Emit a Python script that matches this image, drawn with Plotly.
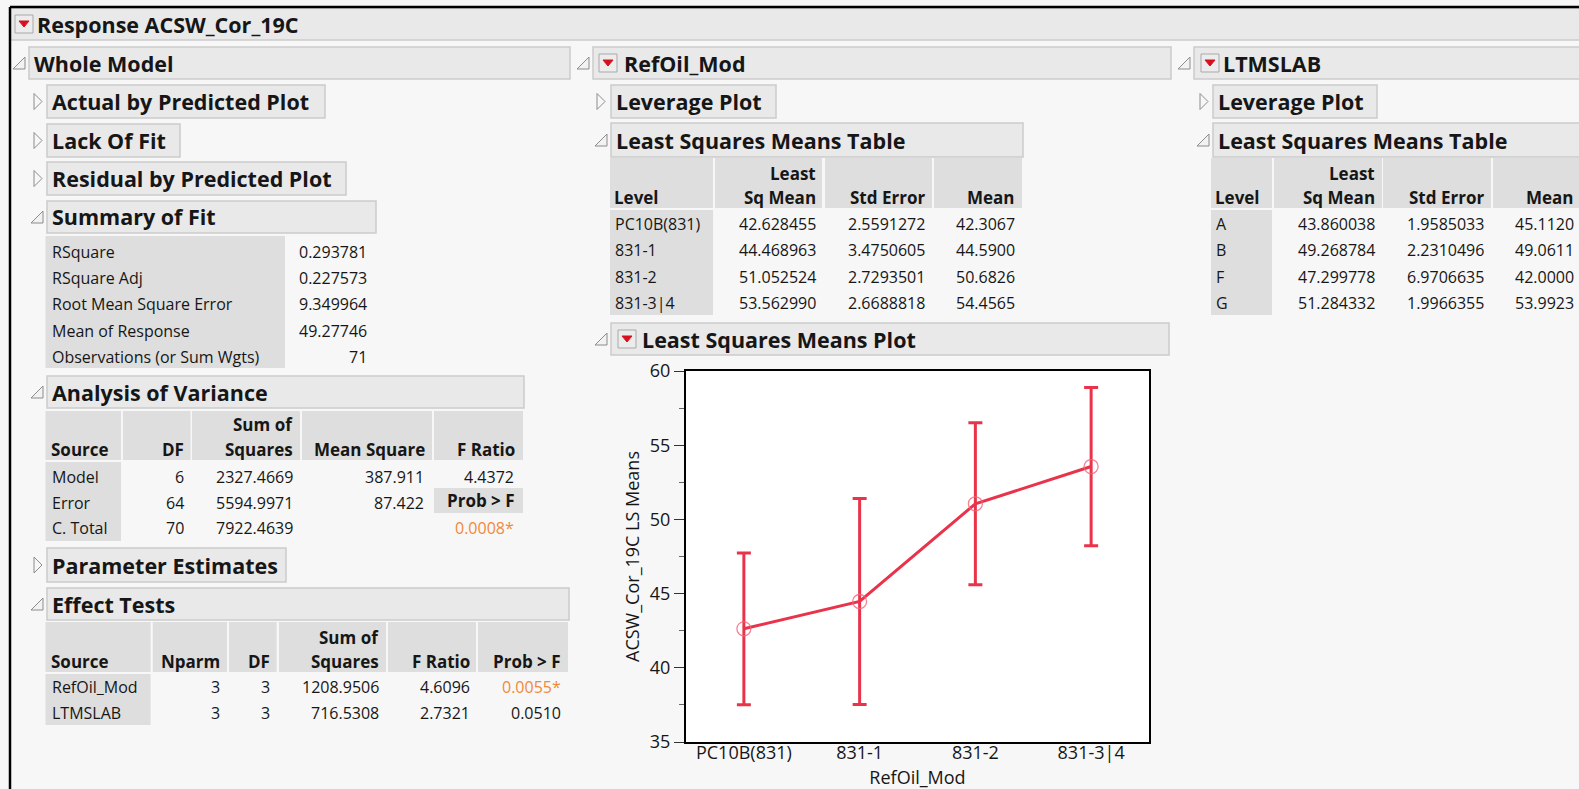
import plotly.graph_objects as go

W, H = 1579, 789

# ---- data ----
levels = ["PC10B(831)", "831-1", "831-2", "831-3|4"]
ls_mean = [42.628455, 44.468963, 51.052524, 53.562990]
std_err = [2.5591272, 3.4750605, 2.7293501, 2.6688818]
raw_mean = [42.3067, 44.5900, 50.6826, 54.4565]
t_crit = 1.99773  # t quantile, 0.975, 64 error DF

lab_levels = ["A", "B", "F", "G"]
lab_ls_mean = [43.860038, 49.268784, 47.299778, 51.284332]
lab_std_err = [1.9585033, 2.2310496, 6.9706635, 1.9966355]
lab_raw_mean = [45.1120, 49.0611, 42.0000, 53.9923]

fit_labels = ["RSquare", "RSquare Adj", "Root Mean Square Error", "Mean of Response",
              "Observations (or Sum Wgts)"]
fit_values = ["0.293781", "0.227573", "9.349964", "49.27746", "71"]

anova_source = ["Model", "Error", "C. Total"]
anova_df = ["6", "64", "70"]
anova_ss = ["2327.4669", "5594.9971", "7922.4639"]
anova_ms = ["387.911", "87.422", ""]
anova_f = ["4.4372", "", ""]
anova_p = "0.0008*"

eff_source = ["RefOil_Mod", "LTMSLAB"]
eff_nparm = ["3", "3"]
eff_df = ["3", "3"]
eff_ss = ["1208.9506", "716.5308"]
eff_f = ["4.6096", "2.7321"]
eff_p = ["0.0055*", "0.0510"]
eff_sig = [True, False]

y_ticks = [35, 40, 45, 50, 55, 60]

# ---- style ----
FONT = "Open Sans"
BG = "#f7f7f7"
HDR_FILL = "#e9e9e9"
HDR_LINE = "#cbcbcb"
CELL = "#dedede"
TXT = "#161616"
ORANGE = "#f0893a"
RED = "#e8334a"
HSIZE = 21.5   # section titles
BSIZE = 16     # table body
CSIZE = 17     # table column headers
PSIZE = 18     # plot axis text

shapes = []
annotations = []


def px(x):
    return x / W


def py(y):
    return 1 - y / H


def rect(x0, y0, x1, y1, fill, line=None, lw=0):
    shapes.append(dict(type="rect", xref="paper", yref="paper",
                       x0=px(x0), x1=px(x1), y0=py(y1), y1=py(y0),
                       fillcolor=fill, line=dict(color=line or fill, width=lw),
                       layer="below"))


def path(points, fill, line, lw=1):
    d = "M " + " L ".join(f"{px(x)},{py(y)}" for x, y in points) + " Z"
    shapes.append(dict(type="path", xref="paper", yref="paper", path=d,
                       fillcolor=fill, line=dict(color=line, width=lw), layer="above"))


def text(x, y, s, anchor="left", size=BSIZE, bold=False, color=TXT):
    if bold:
        s = f"<b>{s}</b>"
    annotations.append(dict(x=px(x), y=py(y), xref="paper", yref="paper", text=s,
                            showarrow=False, xanchor=anchor, yanchor="middle",
                            font=dict(family=FONT, size=size, color=color),
                            borderpad=0))


def colhead(x, y, s, anchor="right"):
    text(x, y, s, anchor=anchor, size=CSIZE, bold=True)


def open_tri(x, yc):
    path([(x + 12, yc - 6), (x + 12, yc + 6), (x, yc + 6)], "#f2f2f2", "#8c8c8c", 1)


def closed_tri(x, yc):
    path([(x, yc - 8), (x + 8, yc), (x, yc + 8)], "#f7f7f7", "#8c8c8c", 1)


def red_icon(x0, yc):
    shapes.append(dict(type="rect", xref="paper", yref="paper",
                       x0=px(x0), x1=px(x0 + 18), y0=py(yc + 9), y1=py(yc - 9),
                       fillcolor="#ececec", line=dict(color="#a9a9a9", width=1),
                       layer="above"))
    path([(x0 + 4, yc - 3), (x0 + 14, yc - 3), (x0 + 9, yc + 3)], "#d7101f", "#d7101f", 1)


def header(x0, y0, x1, y1, title, tri=None, tri_x=None, icon_x=None, text_x=None, size=HSIZE):
    rect(x0, y0, x1, y1, HDR_FILL, HDR_LINE, 1.5)
    yc = (y0 + y1) / 2
    if tri == "open":
        open_tri(tri_x, yc)
    elif tri == "closed":
        closed_tri(tri_x, yc)
    if icon_x is not None:
        red_icon(icon_x, yc)
    text(text_x if text_x is not None else x0 + 5, yc, title, size=size, bold=True)


# ---- frame and top bar ----
rect(10, 8, W + 5, 40, HDR_FILL, HDR_LINE, 1.5)
red_icon(15, 24)
text(36, 24, "Response ACSW_Cor_19C", size=HSIZE, bold=True)
shapes.append(dict(type="line", xref="paper", yref="paper", x0=px(10), x1=1,
                   y0=py(7), y1=py(7), line=dict(color="black", width=2.5)))
shapes.append(dict(type="line", xref="paper", yref="paper", x0=px(10), x1=px(10),
                   y0=py(7), y1=0, line=dict(color="black", width=2.5)))

# ---- left column: Whole Model ----
header(29, 47, 570, 79, "Whole Model", "open", 13, text_x=33)
header(47, 85, 325, 118, "Actual by Predicted Plot", "closed", 34, text_x=51)
header(47, 124, 180, 157, "Lack Of Fit", "closed", 34, text_x=51)
header(47, 162, 346, 195, "Residual by Predicted Plot", "closed", 34, text_x=51)
header(47, 201, 376, 233, "Summary of Fit", "open", 31, text_x=51)

rect(45.5, 236, 285, 368, CELL)
for i, (lab, val) in enumerate(zip(fit_labels, fit_values)):
    yy = 252 + i * 26.2
    text(51, yy, lab)
    text(368, yy, val, anchor="right")

header(47, 376, 524, 408, "Analysis of Variance", "open", 31, text_x=51)
anova_cols = [(45.5, 121), (123, 190.5), (192, 300), (302, 432), (434, 523)]
for c0, c1 in anova_cols:
    rect(c0, 411, c1, 460, CELL)
rect(45.5, 462, 121, 541, CELL)
rect(434, 488, 523, 513, CELL)
colhead(50, 449, "Source", anchor="left")
colhead(185, 449, "DF")
colhead(294, 424, "Sum of")
colhead(294, 449, "Squares")
colhead(426, 449, "Mean Square")
colhead(516, 449, "F Ratio")
for i in range(3):
    yy = 477 + i * 25.6
    text(51, yy, anova_source[i])
    text(185, yy, anova_df[i], anchor="right")
    text(294, yy, anova_ss[i], anchor="right")
    if anova_ms[i]:
        text(425, yy, anova_ms[i], anchor="right")
    if anova_f[i]:
        text(515, yy, anova_f[i], anchor="right")
colhead(516, 500, "Prob > F")
text(515, 528, anova_p, anchor="right", color=ORANGE)

header(47, 548, 286, 582, "Parameter Estimates", "closed", 34, text_x=51)
header(47, 588, 569, 620, "Effect Tests", "open", 31, text_x=51)
eff_cols = [(45.5, 150.6), (152.8, 227), (229, 276.7), (279, 386), (388, 476), (478, 568)]
for c0, c1 in eff_cols:
    rect(c0, 622, c1, 672, CELL)
rect(45.5, 674, 150.6, 725, CELL)
colhead(50, 661, "Source", anchor="left")
colhead(221, 661, "Nparm")
colhead(271, 661, "DF")
colhead(380, 637, "Sum of")
colhead(380, 661, "Squares")
colhead(471, 661, "F Ratio")
colhead(562, 661, "Prob > F")
for i in range(2):
    yy = 687 + i * 26
    text(51, yy, eff_source[i])
    text(221, yy, eff_nparm[i], anchor="right")
    text(271, yy, eff_df[i], anchor="right")
    text(380, yy, eff_ss[i], anchor="right")
    text(470.6, yy, eff_f[i], anchor="right")
    text(561.6, yy, eff_p[i], anchor="right", color=ORANGE if eff_sig[i] else TXT)


# ---- least squares means tables ----
def lsm_table(cols, left_x, rights, lv, lsm, se, mn):
    for c0, c1 in cols:
        rect(c0, 158, c1, 208, CELL)
    rect(cols[0][0], 210, cols[0][1], 315, CELL)
    colhead(left_x - 1, 197, "Level", anchor="left")
    colhead(rights[0], 173, "Least")
    colhead(rights[0], 197, "Sq Mean")
    colhead(rights[1], 197, "Std Error")
    colhead(rights[2], 197, "Mean")
    for i in range(len(lv)):
        yy = 224 + i * 26.3
        text(left_x, yy, lv[i])
        text(rights[0], yy, f"{lsm[i]:.6f}", anchor="right")
        text(rights[1], yy, f"{se[i]:.7f}", anchor="right")
        text(rights[2], yy, f"{mn[i]:.4f}", anchor="right")


# middle column: RefOil_Mod
header(593, 47, 1171, 79, "RefOil_Mod", "open", 577, icon_x=599, text_x=623)
header(611, 85, 776, 118, "Leverage Plot", "closed", 597, text_x=615)
header(611, 123, 1023, 157, "Least Squares Means Table", "open", 595, text_x=615)
lsm_table([(610, 713), (715, 822), (825, 932), (934, 1022)], 614,
          [816.5, 925.6, 1015.5], levels, ls_mean, std_err, raw_mean)
header(611, 323, 1169, 355, "Least Squares Means Plot", "open", 595, icon_x=618, text_x=641)

# right column: LTMSLAB
header(1194, 47, W + 5, 79, "LTMSLAB", "open", 1178, icon_x=1201, text_x=1222)
header(1213, 85, 1377, 118, "Leverage Plot", "closed", 1200, text_x=1217)
header(1213, 123, W + 5, 157, "Least Squares Means Table", "open", 1197, text_x=1217)
lsm_table([(1211, 1272), (1274, 1382), (1383, 1491), (1493, W + 5)], 1215,
          [1376, 1485, 1574.5], lab_levels, lab_ls_mean, lab_std_err, lab_raw_mean)

# ---- LS means plot ----
xpos = list(range(len(levels)))
fig = go.Figure()
fig.add_trace(go.Scatter(
    x=xpos, y=ls_mean, mode="lines+markers",
    line=dict(color=RED, width=3),
    marker=dict(symbol="circle-open", size=14, color="rgba(240,100,120,0.8)",
                line=dict(width=1.3)),
    error_y=dict(type="data", array=[t_crit * s for s in std_err], visible=True,
                 color=RED, thickness=3, width=7),
    showlegend=False, hoverinfo="skip",
))

fig.update_layout(
    template="none",
    width=W, height=H,
    margin=dict(l=0, r=0, t=0, b=0, pad=0, autoexpand=False),
    paper_bgcolor=BG, plot_bgcolor="white",
    showlegend=False,
    shapes=shapes, annotations=annotations,
    font=dict(family=FONT, color=TXT),
    xaxis=dict(domain=[px(686), px(1149)], range=[-0.5, 3.5], automargin=False,
               tickvals=xpos, ticktext=levels, ticks="", showgrid=False, zeroline=False,
               ticklabelstandoff=-7,
               showline=True, mirror=True, linecolor="black", linewidth=2,
               tickfont=dict(family=FONT, size=PSIZE, color=TXT),
               title=dict(text="RefOil_Mod", font=dict(family=FONT, size=PSIZE, color=TXT),
                          standoff=9)),
    yaxis=dict(domain=[py(742), py(371)], range=[35, 60], automargin=False,
               tickvals=y_ticks, ticks="outside", ticklen=10, tickwidth=1,
               tickcolor="#333", showgrid=False, zeroline=False,
               minor=dict(dtick=2.5, tick0=35, ticks="outside", ticklen=5,
                          tickcolor="#666", showgrid=False),
               showline=True, mirror=True, linecolor="black", linewidth=2,
               tickfont=dict(family=FONT, size=PSIZE, color=TXT),
               title=dict(text="ACSW_Cor_19C LS Means",
                          font=dict(family=FONT, size=PSIZE, color=TXT), standoff=6)),
)

fig.write_html("out.html")
